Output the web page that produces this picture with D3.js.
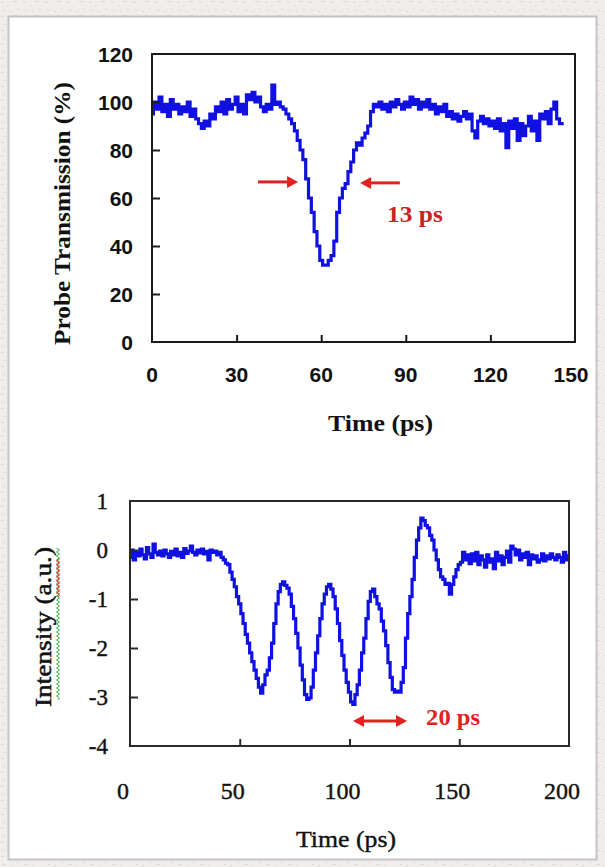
<!DOCTYPE html>
<html><head><meta charset="utf-8">
<script src="https://cdn.jsdelivr.net/npm/d3@7/dist/d3.min.js"></script>
<style>html,body{margin:0;padding:0;background:#f3eeee;} svg{display:block}</style>
</head><body>
<svg id="c" width="605" height="867"></svg>
<script>
// ---------- DATA ----------
const sampleStepPs = 1;
const topXTicks = [0, 30, 60, 90, 120, 150];
const topYTicks = [0, 20, 40, 60, 80, 100, 120];
const topTransmission = [
 95,100,97,102,96,99,94,101,97,99, 95,98,96,100,94,97,93,91,89,92,
 90,95,93,98,96,100,95,101,97,99, 102,96,99,95,103,101,104,100,102,98,
 96,99,97,107,99,100,98,97,95,93, 91,88,84,80,76,68,60,54,46,40,
 34,32,32,34,36,42,54,60,64,66, 71,75,80,83,82,85,87,90,96,99,
 98,100,97,99,96,100,98,101,99,97, 100,98,102,99,101,97,100,98,101,97,
 99,95,98,96,99,94,96,93,95,92, 94,96,93,95,88,85,92,94,91,93,
 90,92,89,93,88,91,81,92,89,93, 84,91,86,90,94,88,92,84,95,93,
 96,91,97,100,93,91,91
];
const botXTicks = [0, 50, 100, 150, 200];
const botYTicks = [1, 0, -1, -2, -3, -4];
const botIntensity = [
 -0.15,0.0,-0.2,-0.05,-0.12,0.02,-0.1,-0.18,0.05,-0.08,
 -0.15,0.12,-0.05,-0.1,-0.02,-0.12,0.0,-0.08,-0.15,-0.03,
 -0.1,0.02,-0.12,-0.05,-0.15,0.03,-0.07,-0.02,0.08,-0.05,
 -0.1,0.0,-0.06,0.02,-0.08,-0.03,-0.2,0.0,-0.05,-0.02,
 -0.1,-0.05,-0.15,-0.2,-0.27,-0.3,-0.45,-0.6,-0.75,-0.95,
 -1.1,-1.3,-1.5,-1.72,-1.9,-2.1,-2.28,-2.45,-2.62,-2.8,
 -2.92,-2.75,-2.55,-2.45,-2.2,-1.9,-1.5,-1.1,-0.85,-0.7,
 -0.65,-0.72,-0.78,-0.9,-1.15,-1.4,-1.7,-2.0,-2.35,-2.65,
 -2.95,-3.05,-3.02,-2.8,-2.45,-2.1,-1.75,-1.4,-1.1,-0.9,
 -0.75,-0.7,-0.8,-0.95,-1.2,-1.5,-1.85,-2.15,-2.45,-2.7,
 -2.9,-3.1,-3.15,-2.95,-2.75,-2.45,-2.1,-1.8,-1.4,-1.05,
 -0.85,-0.8,-0.95,-1.1,-1.2,-1.45,-1.65,-1.95,-2.3,-2.6,
 -2.85,-2.9,-2.88,-2.9,-2.7,-2.4,-1.8,-1.3,-0.95,-0.6,
 -0.15,0.2,0.45,0.65,0.6,0.5,0.45,0.3,0.2,0.0,
 -0.2,-0.4,-0.55,-0.6,-0.7,-0.68,-0.9,-0.7,-0.55,-0.4,
 -0.3,-0.25,-0.05,-0.2,-0.1,-0.28,-0.08,-0.22,-0.05,-0.3,
 -0.12,-0.2,-0.35,-0.1,-0.25,-0.18,-0.38,-0.05,-0.22,-0.12,
 -0.3,-0.15,-0.02,-0.25,0.08,0.02,-0.1,0.0,-0.2,-0.08,
 -0.15,-0.05,-0.3,-0.1,-0.18,-0.12,-0.25,-0.2,-0.08,-0.22,
 -0.12,-0.18,-0.08,-0.15,-0.2,-0.1,-0.15,-0.25,-0.05,-0.2,
 -0.12
];
// annotations (data coordinates)
const topArrowRight = [37.6, 51.8, 66.7];   // from t, to t, value
const topArrowLeft  = [87.9, 73.8, 66.3];
const topLabel = ["13 ps", 83.3, 50];
const botArrow = [101.6, 126.2, -3.49];
const botLabel = ["20 ps", 134.9, -3.57];

// ---------- DRAW ----------
const svg = d3.select("#c");
const defs = svg.append("defs");
const pat = defs.append("pattern").attr("id","bg").attr("width",22).attr("height",14).attr("patternUnits","userSpaceOnUse");
pat.append("rect").attr("width",22).attr("height",14).attr("fill","#f2eded");
[[1,2,3,1,"#ecd3d3"],[7,5,2,1,"#efdcdc"],[13,1,4,1,"#ead0d0"],[17,8,2,2,"#f0dddd"],[3,10,3,1,"#ecd6d6"],[10,11,2,1,"#e9d2d2"]]
  .forEach(r => pat.append("rect").attr("x",r[0]).attr("y",r[1]).attr("width",r[2]).attr("height",r[3]).attr("fill",r[4]));
svg.append("rect").attr("width",605).attr("height",867).attr("fill","url(#bg)");
svg.append("rect").attr("x",8.5).attr("y",16.5).attr("width",588).attr("height",843)
  .attr("fill","#fff").attr("stroke","#c4c4c4").attr("stroke-width",2);

const BLUE = "#1010e2", RED = "#e2221f", LABELRED = "#cc2222";

function arrowHead(g, x, y, dir) { // dir: +1 points right, -1 points left
  g.append("path").attr("d", `M${x},${y} L${x - dir*11},${y-6} L${x - dir*11},${y+6} Z`).attr("fill", RED);
}

// ----- top chart -----
{
  const L = 152, R = 575, T = 54, B = 342;
  const x = d3.scaleLinear().domain([0,150]).range([L,R]);
  const y = d3.scaleLinear().domain([0,120]).range([B,T]);
  const g = svg.append("g");
  const line = d3.line().curve(d3.curveStep).x((d,i)=>x(i*sampleStepPs)).y(d=>y(d));
  g.append("path").datum(topTransmission).attr("d", line).attr("fill","none")
   .attr("stroke",BLUE).attr("stroke-width",3.2).attr("stroke-linejoin","miter");
  g.append("rect").attr("x",L).attr("y",T).attr("width",R-L).attr("height",B-T)
   .attr("fill","none").attr("stroke","#1a1a1a").attr("stroke-width",2);
  const xa = g.append("g").attr("transform",`translate(0,${B})`)
    .call(d3.axisTop(x).tickValues(topXTicks.slice(1,-1)).tickSize(7).tickFormat(""));
  const ya = g.append("g").attr("transform",`translate(${L},0)`)
    .call(d3.axisRight(y).tickValues(topYTicks.slice(1,-1)).tickSize(8).tickFormat(""));
  [xa,ya].forEach(a=>{a.select(".domain").remove(); a.selectAll("line").attr("stroke","#1a1a1a").attr("stroke-width",2);});
  g.selectAll(".xl").data(topXTicks).join("text").attr("x",d=>x(d)-(d===150?4:0)).attr("y",382)
   .attr("text-anchor","middle").attr("font-family","Liberation Sans, Arial, sans-serif").attr("font-weight","bold")
   .attr("font-size",21).attr("fill","#111").text(d=>d);
  g.selectAll(".yl").data(topYTicks).join("text").attr("x",133).attr("y",d=>y(d)+7.5)
   .attr("text-anchor","end").attr("font-family","Liberation Sans, Arial, sans-serif").attr("font-weight","bold")
   .attr("font-size",21).attr("fill","#111").text(d=>d);
  g.append("text").attr("x",380.5).attr("y",431).attr("text-anchor","middle")
   .attr("font-family","Liberation Serif, Times New Roman, serif").attr("font-weight","bold").attr("font-size",24)
   .attr("textLength",105).attr("lengthAdjust","spacingAndGlyphs").attr("fill","#111").text("Time (ps)");
  g.append("text").attr("transform","translate(70,213.5) rotate(-90)").attr("text-anchor","middle")
   .attr("font-family","Liberation Serif, Times New Roman, serif").attr("font-weight","bold").attr("font-size",23)
   .attr("textLength",263).attr("lengthAdjust","spacingAndGlyphs").attr("fill","#111").text("Probe Transmission (%)");
  // arrows
  const a1y = y(topArrowRight[2]);
  g.append("line").attr("x1",x(topArrowRight[0])).attr("x2",x(topArrowRight[1])-9).attr("y1",a1y).attr("y2",a1y)
   .attr("stroke",RED).attr("stroke-width",3);
  arrowHead(g, x(topArrowRight[1]), a1y, 1);
  const a2y = y(topArrowLeft[2]);
  g.append("line").attr("x1",x(topArrowLeft[0])).attr("x2",x(topArrowLeft[1])+9).attr("y1",a2y).attr("y2",a2y)
   .attr("stroke",RED).attr("stroke-width",3);
  arrowHead(g, x(topArrowLeft[1]), a2y, -1);
  g.append("text").attr("x",x(topLabel[1])).attr("y",y(topLabel[2]))
   .attr("font-family","Liberation Serif, Times New Roman, serif").attr("font-weight","bold").attr("font-size",24)
   .attr("textLength",56).attr("lengthAdjust","spacingAndGlyphs").attr("fill",LABELRED).text(topLabel[0]);
}

// ----- bottom chart -----
{
  const L = 130, R = 569, T = 501, B = 746;
  const x = d3.scaleLinear().domain([0,200]).range([L,R]);
  const y = d3.scaleLinear().domain([-4,1]).range([B,T]);
  const g = svg.append("g");
  const line = d3.line().curve(d3.curveStep).x((d,i)=>x(i*sampleStepPs)).y(d=>y(d));
  g.append("path").datum(botIntensity).attr("d", line).attr("fill","none")
   .attr("stroke",BLUE).attr("stroke-width",3.2).attr("stroke-linejoin","miter");
  g.append("rect").attr("x",L).attr("y",T).attr("width",R-L).attr("height",B-T)
   .attr("fill","none").attr("stroke","#2a2a2a").attr("stroke-width",2);
  const xa = g.append("g").attr("transform",`translate(0,${B})`)
    .call(d3.axisTop(x).tickValues(botXTicks.slice(1,-1)).tickSize(7).tickFormat(""));
  const ya = g.append("g").attr("transform",`translate(${L},0)`)
    .call(d3.axisRight(y).tickValues(botYTicks.slice(1,-1)).tickSize(8).tickFormat(""));
  [xa,ya].forEach(a=>{a.select(".domain").remove(); a.selectAll("line").attr("stroke","#2a2a2a").attr("stroke-width",2);});
  g.selectAll(".xl").data(botXTicks).join("text").attr("x",d=>x(d)-7).attr("y",799)
   .attr("text-anchor","middle").attr("font-family","Liberation Serif, Times New Roman, serif")
   .attr("font-size",24).attr("fill","#111").attr("stroke","#111").attr("stroke-width",0.4).text(d=>d);
  g.selectAll(".yl").data(botYTicks).join("text").attr("x",108).attr("y",d=>y(d)+8)
   .attr("text-anchor","end").attr("font-family","Liberation Serif, Times New Roman, serif")
   .attr("font-size",23).attr("fill","#111").attr("stroke","#111").attr("stroke-width",0.4).text(d=>d);
  g.append("text").attr("x",346).attr("y",847).attr("text-anchor","middle")
   .attr("font-family","Liberation Serif, Times New Roman, serif").attr("font-size",24)
   .attr("textLength",100).attr("lengthAdjust","spacingAndGlyphs").attr("fill","#111")
   .attr("stroke","#111").attr("stroke-width",0.4).text("Time (ps)");
  g.append("text").attr("transform","translate(51,627) rotate(-90)").attr("text-anchor","middle")
   .attr("font-family","Liberation Serif, Times New Roman, serif").attr("font-size",24)
   .attr("textLength",160).attr("lengthAdjust","spacingAndGlyphs").attr("fill","#111")
   .attr("stroke","#111").attr("stroke-width",0.5).text("Intensity (a.u.)");
  // spell-check squiggles
  function squiggle(y0, y1, color) {
    let d = `M58,${y1}`; let k = 0;
    for (let yy = y1; yy > y0; yy -= 2) { d += ` L${k%2?56.5:59.5},${yy-2}`; k++; }
    g.append("path").attr("d", d).attr("fill","none").attr("stroke",color).attr("stroke-width",1);
  }
  squiggle(548, 700, "#3aa83a");
  squiggle(560, 597, "#e03030");
  // double arrow
  const ay = y(botArrow[2]);
  g.append("line").attr("x1",x(botArrow[0])+9).attr("x2",x(botArrow[1])-9).attr("y1",ay).attr("y2",ay)
   .attr("stroke",RED).attr("stroke-width",3);
  arrowHead(g, x(botArrow[0]), ay, -1);
  arrowHead(g, x(botArrow[1]), ay, 1);
  g.append("text").attr("x",x(botLabel[1])).attr("y",y(botLabel[2]))
   .attr("font-family","Liberation Serif, Times New Roman, serif").attr("font-weight","bold").attr("font-size",24)
   .attr("textLength",54).attr("lengthAdjust","spacingAndGlyphs").attr("fill",RED).text(botLabel[0]);
}
</script>
</body></html>
